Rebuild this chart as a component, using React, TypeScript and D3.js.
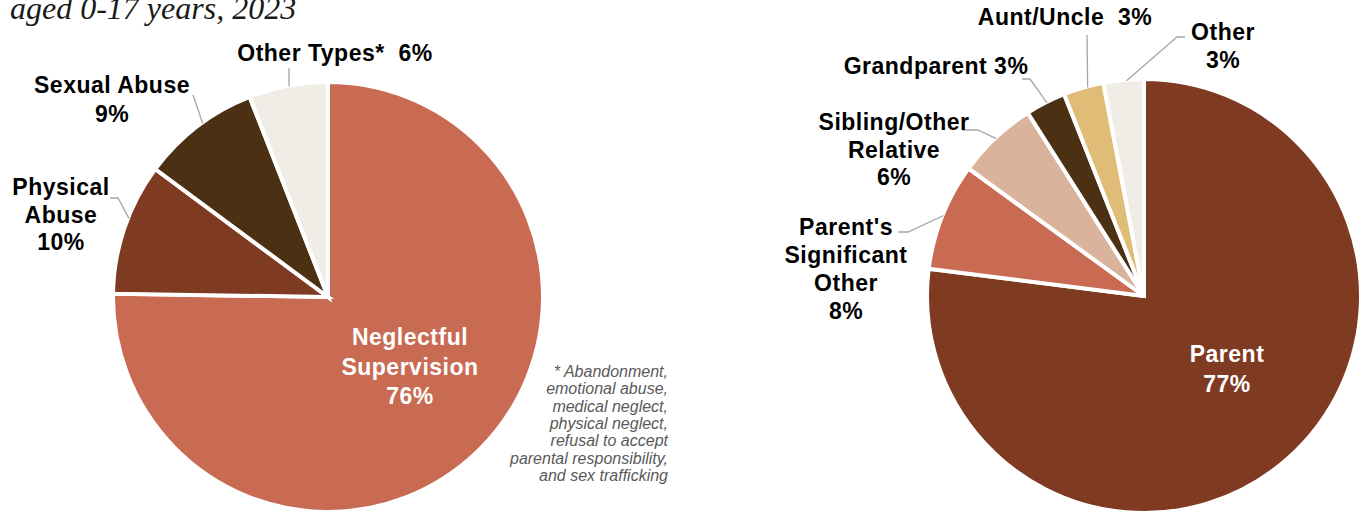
import React from 'react';
import * as d3 from 'd3';

// ---- Data ----
const maltreatmentTypes = ['Neglectful Supervision', 'Physical Abuse', 'Sexual Abuse', 'Other Types*'];
const maltreatmentValues = [76, 10, 9, 6];
const maltreatmentColors = ['#C96A52', '#7F3A22', '#4B3014', '#F0EDE7'];

const perpetratorTypes = ['Parent', "Parent's Significant Other", 'Sibling/Other Relative', 'Grandparent', 'Aunt/Uncle', 'Other'];
const perpetratorValues = [77, 8, 6, 3, 3, 3];
const perpetratorColors = ['#7F3A22', '#C96A52', '#DAB39D', '#4B3014', '#DFBD77', '#F0EDE7'];

const titleText = 'aged 0-17 years, 2023';
const footnoteLines = [
  '* Abandonment,',
  'emotional abuse,',
  'medical neglect,',
  'physical neglect,',
  'refusal to accept',
  'parental responsibility,',
  'and sex trafficking',
];

// ---- Layout ----
type LabelLayout = {
  lines: string[]; // '{v}' replaced with value
  x: number;
  y: number; // first baseline
  lh: number;
  fill: string;
  leader?: [number, number][];
  t?: number;
};

const leftLabels: LabelLayout[] = [
  { lines: ['Neglectful', 'Supervision', '{v}%'], x: 410, y: 345, lh: 29.5, fill: '#ffffff' },
  { lines: ['Physical', 'Abuse', '{v}%'], x: 61, y: 195, lh: 27.7, fill: '#000', leader: [[110, 198], [118, 198]], t: 0.58 },
  { lines: ['Sexual Abuse', '{v}%'], x: 112, y: 93, lh: 28.5, fill: '#000', leader: [[193, 95]], t: 0.55 },
  { lines: ['Other Types*\u00A0 {v}%'], x: 335, y: 61, lh: 28, fill: '#000', leader: [[289, 68]], t: 0.51 },
];

const rightLabels: LabelLayout[] = [
  { lines: ['Parent', '{v}%'], x: 1227, y: 362, lh: 29.5, fill: '#ffffff' },
  { lines: ["Parent's", 'Significant', 'Other', '{v}%'], x: 846, y: 235, lh: 28, fill: '#000', leader: [[898, 232], [908, 232]], t: 0.51 },
  { lines: ['Sibling/Other', 'Relative', '{v}%'], x: 894, y: 130, lh: 27.5, fill: '#000', leader: [[963, 130], [978, 130]], t: 0.5 },
  { lines: ['Grandparent {v}%'], x: 936, y: 74, lh: 28, fill: '#000', leader: [[1022, 79], [1030, 79]], t: 0.53 },
  { lines: ['Aunt/Uncle\u00A0 {v}%'], x: 1065, y: 25, lh: 28, fill: '#000', leader: [[1087, 35]], t: 0.6 },
  { lines: ['Other', '{v}%'], x: 1223, y: 40, lh: 27.5, fill: '#000', leader: [[1185, 37], [1177, 37]], t: 0.57 },
];

const LABEL_FONT = '"Liberation Sans", Arial, sans-serif';

function Pie({ values, colors, cx, cy, r, labels }: { values: number[]; colors: string[]; cx: number; cy: number; r: number; labels: LabelLayout[] }) {
  const pie = d3.pie<number>().sort(null).value((d) => d);
  const arcs = pie(values);
  const arc = d3.arc<d3.PieArcDatum<number>>().innerRadius(0).outerRadius(r);
  const edgeR = r - 1;
  return (
    <g>
      <g transform={`translate(${cx},${cy})`}>
        {arcs.map((a, i) => (
          <path key={i} d={arc(a) || ''} fill={colors[i]} stroke="#ffffff" strokeWidth={4} strokeLinejoin="miter" />
        ))}
      </g>
      {labels.map((lab, i) => {
        const a = arcs[i];
        let leader: string | null = null;
        if (lab.leader) {
          const t = lab.t ?? 0.5;
          const ang = a.startAngle + (a.endAngle - a.startAngle) * t;
          const ex = cx + edgeR * Math.sin(ang);
          const ey = cy - edgeR * Math.cos(ang);
          const pts: [number, number][] = [...lab.leader, [ex, ey]];
          leader = d3.line()(pts);
        }
        return (
          <g key={i}>
            {leader && <path d={leader} fill="none" stroke="#A6A6A6" strokeWidth={1.3} />}
            <text
              x={lab.x}
              y={lab.y}
              textAnchor="middle"
              fontFamily={LABEL_FONT}
              fontWeight="bold"
              fontSize={23}
              letterSpacing={0.5}
              fill={lab.fill}
              style={{ whiteSpace: 'pre' }}
            >
              {lab.lines.map((ln, j) => (
                <tspan key={j} x={lab.x} y={lab.y + j * lab.lh}>
                  {ln.replace('{v}', String(values[i]))}
                </tspan>
              ))}
            </text>
          </g>
        );
      })}
    </g>
  );
}

export default function App() {
  return (
    <svg
      width={1364}
      height={518}
      viewBox="0 0 1364 518"
      style={{ position: 'absolute', left: 0, top: 0, background: '#ffffff' }}
    >
      <rect width={1364} height={518} fill="#ffffff" />
      <text x={10} y={19} fontFamily='"Liberation Serif", "DejaVu Serif", serif' fontStyle="italic" fontSize={32} fill="#1a1a1a">
        {titleText}
      </text>
      <Pie values={maltreatmentValues} colors={maltreatmentColors} cx={328} cy={297} r={215} labels={leftLabels} />
      <Pie values={perpetratorValues} colors={perpetratorColors} cx={1144} cy={296} r={217} labels={rightLabels} />
      <text fontFamily={LABEL_FONT} fontStyle="italic" fontSize={16} fill="#595959" textAnchor="end">
        {footnoteLines.map((ln, i) => (
          <tspan key={i} x={668} y={377 + i * 17.3}>
            {ln}
          </tspan>
        ))}
      </text>
    </svg>
  );
}
